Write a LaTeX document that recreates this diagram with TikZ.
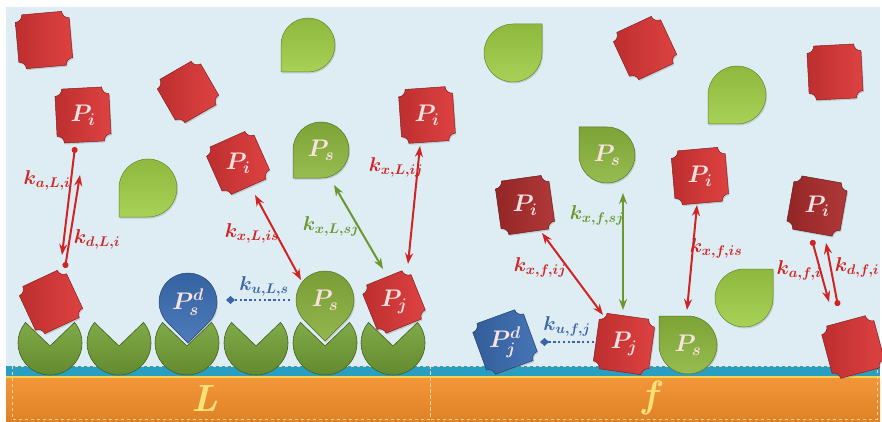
\RequirePackage{fix-cm}
\documentclass[tikz,border=0pt]{standalone}
\usepackage{amsmath}
\usepackage{bm}
\usepackage{tikz}
\usetikzlibrary{arrows.meta}
\usetikzlibrary{shadows}

\definecolor{bgblue}{RGB}{221,237,243}
\definecolor{stripteal}{RGB}{40,158,195}
\definecolor{stripyellow}{RGB}{246,210,80}
\definecolor{bandorange}{RGB}{242,140,40}
\definecolor{dashorange}{RGB}{250,212,165}
\definecolor{chipred}{RGB}{220,54,54}
\definecolor{chipdark}{RGB}{172,44,44}
\definecolor{chipblue}{RGB}{58,108,178}
\definecolor{dropgreen}{RGB}{158,205,68}
\definecolor{cupgreen}{RGB}{114,160,52}
\definecolor{labelred}{RGB}{208,36,36}
\definecolor{labelgreen}{RGB}{108,150,46}
\definecolor{labelblue}{RGB}{58,100,168}
\definecolor{pinkwhite}{RGB}{250,226,226}
\definecolor{letteryellow}{RGB}{250,226,120}

\tikzset{
	chipstyle/.style={left color=#1!86!black, right color=#1!94!white, draw=#1!60!black, line width=0.5pt,
		drop shadow={shadow xshift=1pt, shadow yshift=-1.5pt, opacity=0.3}},
	dropstyle/.style={top color=#1!90!black, bottom color=#1!90!white, draw=#1!65!black, line width=0.5pt,
		drop shadow={shadow xshift=1pt, shadow yshift=-1.5pt, opacity=0.3}},
	cupstyle/.style={top color=cupgreen!90!white, bottom color=cupgreen!85!black, draw=cupgreen!60!black, line width=0.6pt},
	plabel/.style={text=pinkwhite, font=\fontsize{24}{28}\selectfont, inner sep=0pt},
	klabel/.style={font=\fontsize{20}{23}\selectfont, inner sep=0pt},
	rlabel/.style={text=letteryellow, font=\fontsize{38}{42}\selectfont\bfseries\itshape, inner sep=0pt},
	rate/.style={line width=2pt, -{Stealth[length=11pt, width=8pt]}},
	exch/.style={line width=2pt, {Stealth[length=11pt, width=8pt]}-{Stealth[length=11pt, width=8pt]}},
	ads/.style={line width=2pt, {Circle[length=6pt]}-{Stealth[length=11pt, width=8pt]}},
	unbind/.style={line width=2.2pt, draw=labelblue, dash pattern=on 2.4pt off 2.4pt, -{Diamond[length=9pt, width=8pt]}}
}

% square protein with notched corners: centre, angle, colour, half side
\newcommand{\chip}[4]{%
	\path[shift={#1}, rotate=#2, chipstyle=#3]
		(-#4+7,#4) -- (#4-7,#4) arc[start angle=180, end angle=270, radius=7]
		-- (#4,-#4+7) arc[start angle=90, end angle=180, radius=7]
		-- (-#4+7,-#4) arc[start angle=0, end angle=90, radius=7]
		-- (-#4,#4-7) arc[start angle=270, end angle=360, radius=7] -- cycle;}
% round protein with one pointed corner: centre, angle, colour, radius
\newcommand{\drop}[4]{%
	\path[shift={#1}, rotate=#2, dropstyle=#3]
		(#4,0) arc[start angle=0, end angle=270, radius=#4] -- (#4,-#4) -- cycle;}
% binding site on the surface
\newcommand{\receptor}[1]{%
	\path[shift={#1}, cupstyle]
		(0,-3) -- (40:32) arc[start angle=40, end angle=-220, radius=32] -- cycle;}

\begin{document}
\begin{tikzpicture}[x=1pt, y=1pt]
	\useasboundingbox (0,0) rectangle (882,-422);
	\fill[white] (0,0) rectangle (882,-422);

	% solution, surface and the two resins
	\fill[bgblue] (6,-7) rectangle (880,-366);
	\fill[stripteal] (6,-366) rectangle (880,-376);
	\fill[stripyellow] (6,-376) rectangle (880,-378.5);
	\fill[top color=bandorange!92!white, bottom color=bandorange!92!black] (6,-378.5) rectangle (880,-422);
	\draw[dashorange, line width=0.8pt, dashed] (12,-366) rectangle (430,-419);
	\draw[dashorange, line width=0.8pt, dashed] (430,-366) rectangle (877,-419);

	\foreach \cx in {50,119,187,256,325,393}
		\receptor{(\cx,-343)};

	% left part
	\chip{(44,-40)}{5}{chipred}{27}
	\chip{(83,-115)}{3}{chipred}{27}
	\chip{(188,-92)}{30}{chipred}{25}
	\chip{(238,-163)}{24}{chipred}{26}
	\chip{(427,-115)}{4}{chipred}{27}
	\chip{(51,-302)}{25}{chipred}{26}
	\chip{(394,-302)}{22}{chipred}{26}
	\drop{(308,-45)}{-90}{dropgreen}{27}
	\drop{(148,-188)}{-90}{dropgreen}{29}
	\drop{(321,-150)}{-90}{dropgreen!88!black}{28}
	\drop{(325,-300)}{-45}{dropgreen!85!black}{29}
	\drop{(188,-302)}{-45}{chipblue}{29}

	% right part
	\chip{(645,-48)}{25}{chipred}{26}
	\chip{(835,-72)}{3}{chipred}{27}
	\chip{(700,-176)}{5}{chipred}{27}
	\chip{(525,-205)}{8}{chipdark}{27}
	\chip{(817,-206)}{-10}{chipdark}{27}
	\chip{(624,-344)}{-8}{chipred}{28}
	\chip{(505,-342)}{20}{chipblue}{27}
	\chip{(853,-347)}{15}{chipred}{27}
	\drop{(513,-53)}{90}{dropgreen}{29}
	\drop{(737,-95)}{-90}{dropgreen}{29}
	\drop{(607,-155)}{180}{dropgreen!88!black}{28}
	\drop{(744,-298)}{90}{dropgreen}{29}
	\drop{(688,-345)}{180}{dropgreen!88!black}{29}

	% protein names
	\node[plabel] (piA) at (83,-115) {$\bm{P_i}$};
	\node[plabel] (piB) at (238,-163) {$\bm{P_i}$};
	\node[plabel] (piC) at (427,-115) {$\bm{P_i}$};
	\node[plabel] (pjA) at (394,-302) {$\bm{P_j}$};
	\node[plabel] (psA) at (321,-150) {$\bm{P_s}$};
	\node[plabel] (psB) at (325,-300) {$\bm{P_s}$};
	\node[plabel] (psdA) at (188,-302) {$\bm{P_s^d}$};
	\node[plabel] (piD) at (700,-176) {$\bm{P_i}$};
	\node[plabel] (piE) at (525,-205) {$\bm{P_i}$};
	\node[plabel] (piF) at (817,-206) {$\bm{P_i}$};
	\node[plabel] (psC) at (607,-155) {$\bm{P_s}$};
	\node[plabel] (psD) at (688,-345) {$\bm{P_s}$};
	\node[plabel] (pjB) at (624,-344) {$\bm{P_j}$};
	\node[plabel] (pjdA) at (505,-342) {$\bm{P_j^d}$};

	% arrow ends
	\coordinate[](aLs) at (75,-147);
	\coordinate[](aLe) at (62,-255);
	\coordinate[](dLs) at (65,-268);
	\coordinate[](dLe) at (80,-175);
	\coordinate[](isLa) at (255,-195);
	\coordinate[](isLb) at (301,-280);
	\coordinate[](sjLa) at (334,-185);
	\coordinate[](sjLb) at (383,-269);
	\coordinate[](ijLa) at (420,-146);
	\coordinate[](ijLb) at (408,-264);
	\coordinate[](uLs) at (290,-300);
	\coordinate[](uLe) at (226,-300);
	\coordinate[](ijfa) at (542,-233);
	\coordinate[](ijfb) at (603,-315);
	\coordinate[](sjfa) at (623,-193);
	\coordinate[](sjfb) at (623,-310);
	\coordinate[](isfa) at (697,-205);
	\coordinate[](isfb) at (687,-310);
	\coordinate[](afs) at (812,-240);
	\coordinate[](afe) at (829,-302);
	\coordinate[](dfs) at (838,-306);
	\coordinate[](dfe) at (826,-243);
	\coordinate[](ufs) at (594,-342);
	\coordinate[](ufe) at (540,-342);

	\draw[ads, labelred] (aLs)--(aLe);
	\draw[ads, labelred] (dLs)--(dLe);
	\draw[exch, labelred] (isLa)--(isLb);
	\draw[exch, labelgreen] (sjLa)--(sjLb);
	\draw[exch, labelred] (ijLa)--(ijLb);
	\draw[unbind] (uLs)--(uLe);
	\draw[exch, labelred] (ijfa)--(ijfb);
	\draw[exch, labelgreen] (sjfa)--(sjfb);
	\draw[exch, labelred] (isfa)--(isfb);
	\draw[ads, labelred] (afs)--(afe);
	\draw[ads, labelred] (dfs)--(dfe);
	\draw[unbind] (ufs)--(ufe);

	% rate constants
	\node[klabel, labelred] (kaL) at (47,-180) {$\bm{k_{a,L,i}}$};
	\node[klabel, labelred] (kdL) at (97,-239) {$\bm{k_{d,L,i}}$};
	\node[klabel, labelred] (kisL) at (252,-233) {$\bm{k_{x,L,is}}$};
	\node[klabel, labelgreen] (ksjL) at (331,-226) {$\bm{k_{x,L,sj}}$};
	\node[klabel, labelred] (kijL) at (396,-167) {$\bm{k_{x,L,ij}}$};
	\node[klabel, labelblue] (kuL) at (264,-286) {$\bm{k_{u,L,s}}$};
	\node[klabel, labelred] (kijf) at (540,-267) {$\bm{k_{x,f,ij}}$};
	\node[klabel, labelgreen] (ksjf) at (597,-215) {$\bm{k_{x,f,sj}}$};
	\node[klabel, labelred] (kisf) at (716,-248) {$\bm{k_{x,f,is}}$};
	\node[klabel, labelred] (kaf) at (799,-270) {$\bm{k_{a,f,i}}$};
	\node[klabel, labelred] (kdf) at (857,-267) {$\bm{k_{d,f,i}}$};
	\node[klabel, labelblue] (kuf) at (567,-326) {$\bm{k_{u,f,j}}$};

	% resin names
	\node[rlabel] (resL) at (205,-398) {L};
	\node[rlabel] (resf) at (650,-398) {f};
\end{tikzpicture}
\end{document}
